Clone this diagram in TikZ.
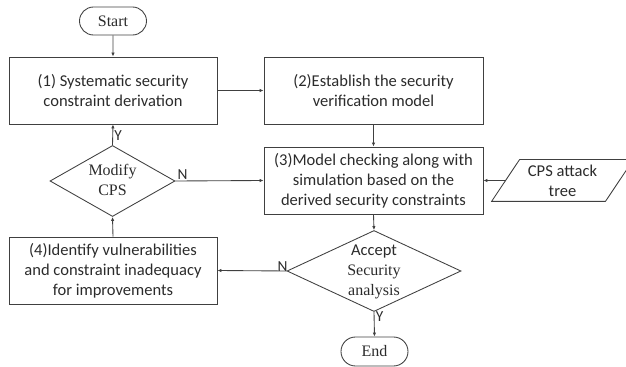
\documentclass[tikz,border=0pt]{standalone}
\usepackage{fontspec}
\setmainfont{Carlito}
\newfontfamily\seriffont{Liberation Serif}
\usetikzlibrary{shapes.geometric,shapes.misc,arrows.meta}
\definecolor{ln}{HTML}{404040}
\definecolor{tx}{HTML}{2B2B2B}
\begin{document}
\begin{tikzpicture}[x=0.75pt,y=-0.75pt,
  line width=0.65pt, draw=ln, text=tx,
  every node/.style={font=\fontsize{12.4}{15}\selectfont, align=center, text=tx},
  procbox/.style={draw=ln, rectangle, inner sep=0pt, minimum height=50.25pt},
  term/.style={draw=ln, rounded rectangle, inner sep=0pt, minimum width=50.25pt, minimum height=21pt, font=\seriffont\fontsize{12}{15}\selectfont},
  decision/.style={draw=ln, diamond, inner sep=0pt},
  arr/.style={draw=ln, -{Latex[length=3pt,width=2.6pt]}},
  yn/.style={inner sep=1pt, font=\fontsize{11.5}{14}\selectfont}
]
\useasboundingbox (0,0) rectangle (626,367);

\node[term] (start) at (113,21) {Start};
\node[procbox, minimum width=156pt] (b1) at (113,90.5) {(1) Systematic security\\constraint derivation};
\node[procbox, minimum width=164.25pt] (b2) at (373.5,90.5) {(2)Establish the security\\verification model};
\node[procbox, minimum width=164.25pt] (b3) at (373.5,180.5) {(3)Model checking along with\\simulation based on the\\derived security constraints};
\node[procbox, minimum width=156pt] (b4) at (113,270.5) {(4)Identify vulnerabilities\\and constraint inadequacy\\for improvements};
\node[decision, minimum width=93.75pt, minimum height=53.25pt,
  label={[font=\seriffont\fontsize{12}{15}\selectfont, align=center, yshift=1pt]center:{Modify\\CPS}}] (mod) at (112.5,181) {};
\node[decision, minimum width=130.5pt, minimum height=60.75pt,
  label={[align=center, yshift=-0.5pt]center:{Accept\\{\seriffont\fontsize{12}{15}\selectfont Security}\\{\seriffont\fontsize{12}{15}\selectfont analysis}}}] (acc) at (374,271) {};
\node[term, minimum height=21.75pt] (end) at (374.5,351.5) {End};
\node[inner sep=0pt, minimum width=84.75pt, minimum height=30.75pt] (tree) at (562.5,180.5) {CPS attack\\tree};
\draw[ln] ([xshift=-10.5pt]tree.south west) -- ([xshift=10.5pt]tree.north west)
  -- ([xshift=10.5pt]tree.north east) -- ([xshift=-10.5pt]tree.south east) -- cycle;

\draw[arr] (start) -- (b1);
\draw[arr] (b1) -- (b2);
\draw[arr] (b2) -- (b3);
\draw[arr] (tree.west) -- (b3.east);
\draw[arr] (mod.north) -- node[yn, pos=0.45, right] {Y} (b1.south);
\draw[arr] (mod.east) -- node[yn, pos=0.02, above right, xshift=-1pt] {N} (b3.west);
\draw[arr] (b4.north) -- (mod.south);
\draw[arr] (b3.south) -- (acc.north);
\draw[arr] (acc.west) -- node[yn, pos=0.0, above left, xshift=2pt, yshift=-2pt] {N} (b4.east);
\draw[arr] (acc.south) -- node[yn, pos=0.2, right] {Y} (end.north);
\end{tikzpicture}
\end{document}
